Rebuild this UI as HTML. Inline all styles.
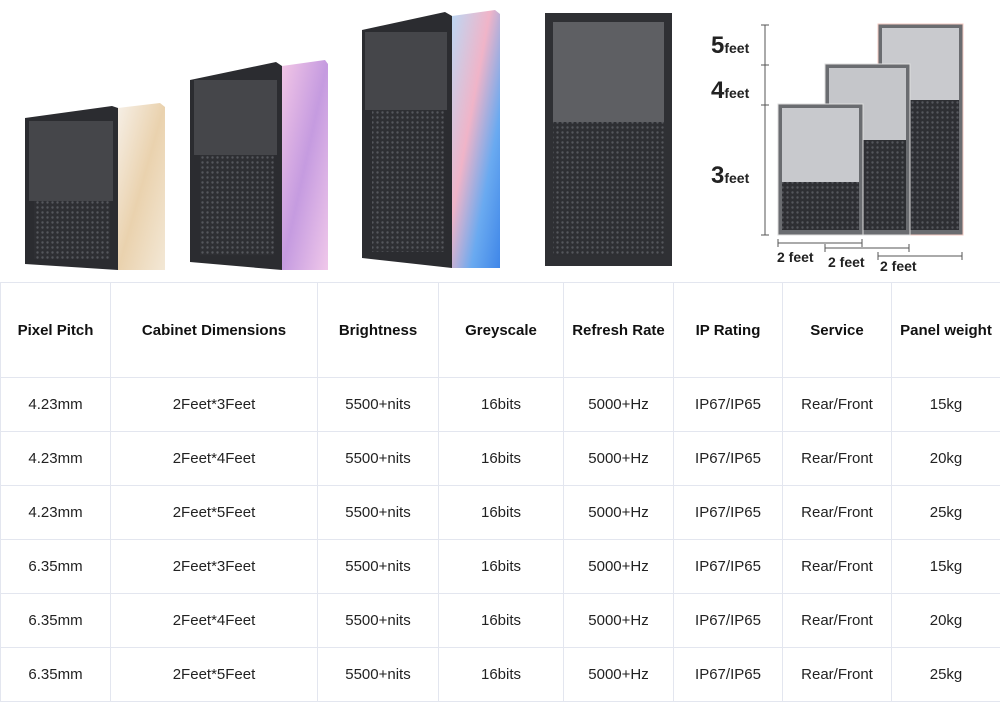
<!DOCTYPE html>
<html><head><meta charset="utf-8"><style>
body{margin:0;width:1000px;height:700px;background:#fff;font-family:"Liberation Sans",sans-serif;overflow:hidden;position:relative}
svg{position:absolute;left:0;top:0}
table{position:absolute;left:0;top:282px;width:1000px;border-collapse:collapse;table-layout:fixed}
td,th{border:1px solid #e3e6ef;text-align:center;font-size:15px;color:#222;padding:0}
th{height:94px;font-weight:bold;font-size:15px;color:#111}
td{height:53px}
</style></head><body>
<svg width="1000" height="282" viewBox="0 0 1000 282">
<defs>
<linearGradient id="g1" x1="0" y1="0" x2="1" y2="1"><stop offset="0" stop-color="#f6efe6"/><stop offset=".5" stop-color="#ead2ae"/><stop offset="1" stop-color="#f3e8d6"/></linearGradient>
<linearGradient id="g2" x1="0" y1="0" x2="1" y2="1"><stop offset="0" stop-color="#f2c6e6"/><stop offset=".5" stop-color="#c59be0"/><stop offset="1" stop-color="#f0c8ea"/></linearGradient>
<linearGradient id="g3" x1="0" y1="0" x2="1" y2="1"><stop offset="0" stop-color="#bcd7f3"/><stop offset=".4" stop-color="#f0b4c8"/><stop offset=".7" stop-color="#6aaaf0"/><stop offset="1" stop-color="#3f86e8"/></linearGradient>
<pattern id="grid" width="5" height="5" patternUnits="userSpaceOnUse"><rect width="5" height="5" fill="#2e2f33"/><circle cx="2.5" cy="2.5" r="1.2" fill="#55575c"/></pattern>
</defs>
<!-- cabinet 1 -->
<polygon points="25,118 112,106 118,108 118,270 25,264" fill="#2b2c30"/>
<rect x="29" y="121" width="84" height="80" fill="#45464a"/>
<rect x="34" y="201" width="76" height="58" fill="url(#grid)"/>
<polygon points="118,108 160,103 165,107 165,270 118,270" fill="url(#g1)"/>
<!-- cabinet 2 -->
<polygon points="190,80 276,62 282,66 282,270 190,262" fill="#2b2c30"/>
<rect x="194" y="80" width="83" height="75" fill="#45464a"/>
<rect x="200" y="155" width="74" height="100" fill="url(#grid)"/>
<polygon points="282,66 325,60 328,64 328,270 282,270" fill="url(#g2)"/>
<!-- cabinet 3 -->
<polygon points="362,30 445,12 452,16 452,268 362,258" fill="#2b2c30"/>
<rect x="365" y="32" width="82" height="78" fill="#45464a"/>
<rect x="372" y="110" width="72" height="142" fill="url(#grid)"/>
<polygon points="452,16 495,10 500,14 500,268 452,268" fill="url(#g3)"/>
<!-- cabinet 4 -->
<rect x="545" y="13" width="127" height="253" fill="#2f3034"/>
<rect x="553" y="22" width="111" height="100" fill="#5e5f63"/>
<rect x="553" y="122" width="111" height="134" fill="url(#grid)"/>
<!-- right diagram -->
<rect x="878" y="24" width="85" height="211" fill="#6a6c70" stroke="#f3c9c0"/>
<rect x="882" y="28" width="77" height="72" fill="#c9cace"/>
<rect x="882" y="100" width="77" height="130" fill="url(#grid)"/>
<rect x="825" y="64" width="85" height="171" fill="#6a6c70" stroke="#ddd"/>
<rect x="829" y="68" width="77" height="72" fill="#c5c6ca"/>
<rect x="829" y="140" width="77" height="90" fill="url(#grid)"/>
<rect x="778" y="104" width="85" height="131" fill="#6a6c70" stroke="#ddd"/>
<rect x="782" y="108" width="77" height="74" fill="#c8c9cd"/>
<rect x="782" y="182" width="77" height="48" fill="url(#grid)"/>
<g stroke="#555" stroke-width="1" fill="none">
<line x1="765" y1="25" x2="765" y2="235"/>
<line x1="761" y1="25" x2="769" y2="25"/><line x1="761" y1="65" x2="769" y2="65"/><line x1="761" y1="105" x2="769" y2="105"/><line x1="761" y1="235" x2="769" y2="235"/>
<line x1="778" y1="243" x2="862" y2="243"/><line x1="778" y1="239" x2="778" y2="247"/><line x1="862" y1="239" x2="862" y2="247"/>
<line x1="825" y1="248" x2="909" y2="248"/><line x1="825" y1="244" x2="825" y2="252"/><line x1="909" y1="244" x2="909" y2="252"/>
<line x1="878" y1="256" x2="962" y2="256"/><line x1="878" y1="252" x2="878" y2="260"/><line x1="962" y1="252" x2="962" y2="260"/>
</g>
<g font-family="Liberation Sans" font-weight="bold" fill="#222">
<text x="711" y="53" font-size="24">5<tspan font-size="14">feet</tspan></text>
<text x="711" y="98" font-size="24">4<tspan font-size="14">feet</tspan></text>
<text x="711" y="183" font-size="24">3<tspan font-size="14">feet</tspan></text>
<text x="777" y="262" font-size="14">2 feet</text>
<text x="828" y="267" font-size="14">2 feet</text>
<text x="880" y="271" font-size="14">2 feet</text>
</g>
</svg>
<table>
<colgroup><col style="width:110px"><col style="width:207px"><col style="width:121px"><col style="width:125px"><col style="width:110px"><col style="width:109px"><col style="width:109px"><col style="width:109px"></colgroup>
<tr><th>Pixel Pitch</th><th>Cabinet Dimensions</th><th>Brightness</th><th>Greyscale</th><th>Refresh Rate</th><th>IP Rating</th><th>Service</th><th>Panel weight</th></tr>
<tr><td>4.23mm</td><td>2Feet*3Feet</td><td>5500+nits</td><td>16bits</td><td>5000+Hz</td><td>IP67/IP65</td><td>Rear/Front</td><td>15kg</td></tr>
<tr><td>4.23mm</td><td>2Feet*4Feet</td><td>5500+nits</td><td>16bits</td><td>5000+Hz</td><td>IP67/IP65</td><td>Rear/Front</td><td>20kg</td></tr>
<tr><td>4.23mm</td><td>2Feet*5Feet</td><td>5500+nits</td><td>16bits</td><td>5000+Hz</td><td>IP67/IP65</td><td>Rear/Front</td><td>25kg</td></tr>
<tr><td>6.35mm</td><td>2Feet*3Feet</td><td>5500+nits</td><td>16bits</td><td>5000+Hz</td><td>IP67/IP65</td><td>Rear/Front</td><td>15kg</td></tr>
<tr><td>6.35mm</td><td>2Feet*4Feet</td><td>5500+nits</td><td>16bits</td><td>5000+Hz</td><td>IP67/IP65</td><td>Rear/Front</td><td>20kg</td></tr>
<tr><td>6.35mm</td><td>2Feet*5Feet</td><td>5500+nits</td><td>16bits</td><td>5000+Hz</td><td>IP67/IP65</td><td>Rear/Front</td><td>25kg</td></tr>
</table>
</body></html>
